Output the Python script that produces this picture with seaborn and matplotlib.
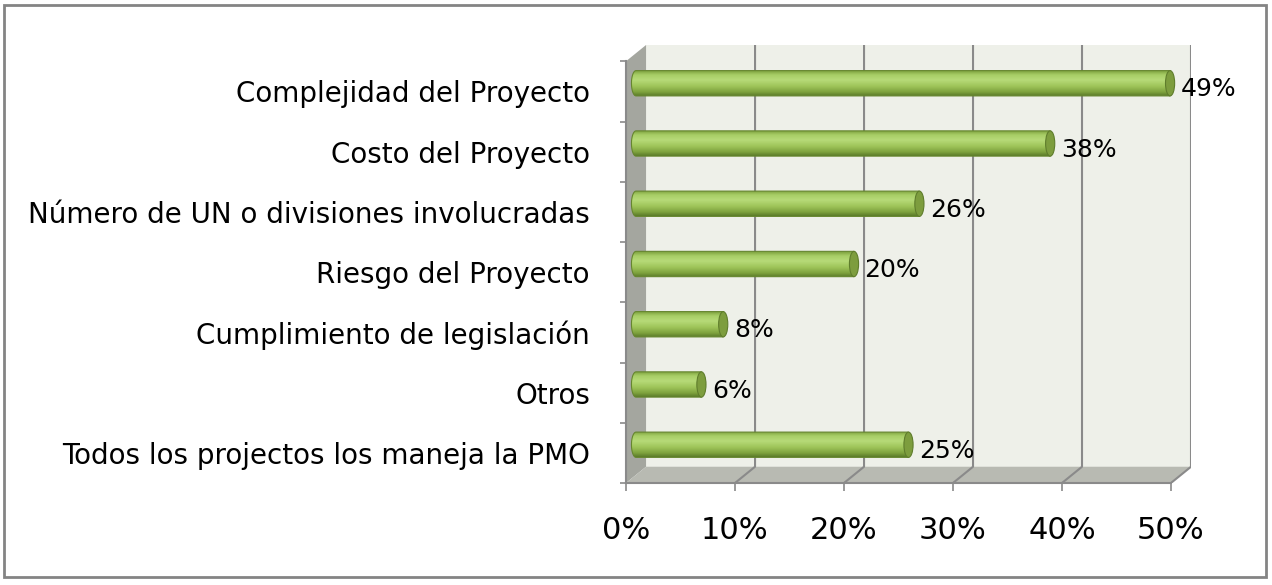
import numpy as np
import pandas as pd
import seaborn as sns
import matplotlib.pyplot as plt
import matplotlib.patches as mpatches
import matplotlib.path as mpath
from matplotlib.colors import LinearSegmentedColormap

# DATA
categories = ['Complejidad del Proyecto', 'Costo del Proyecto',
              'Número de UN o divisiones involucradas', 'Riesgo del Proyecto',
              'Cumplimiento de legislación', 'Otros',
              'Todos los projectos los maneja la PMO']
values = [49, 38, 26, 20, 8, 6, 25]
x_ticks = [0, 10, 20, 30, 40, 50]
x_tick_labels = ['0%', '10%', '20%', '30%', '40%', '50%']

df = pd.DataFrame({'criterio': categories, 'pct': values})

# half depth of the 3d box, in data units (x in %, y in category steps)
DX = 0.92
DY = 0.135
BAR_H = 0.42
CAP = 0.42
GRID = '#8a8a8a'

sns.set_style('white')
fig = plt.figure(figsize=(12.72, 5.85), dpi=100)
ax = fig.add_axes([626 / 1272, 102 / 585, 565 / 1272, 438 / 585])
ax.set_facecolor('white')

n = len(categories)
x_max = x_ticks[-1]
top_b, bot_b = -0.5 - DY, n - 0.5 - DY
top_f, bot_f = -0.5 + DY, n - 0.5 + DY

# walls and floor
ax.add_patch(mpatches.Rectangle((DX, top_b), x_max, bot_b - top_b,
                                fc='#eef0e9', ec='none', zorder=0))
ax.add_patch(mpatches.Polygon([(-DX, top_f), (DX, top_b), (DX, bot_b), (-DX, bot_f)],
                              fc='#a4a69f', ec='none', zorder=0))
ax.add_patch(mpatches.Polygon([(DX, bot_b), (x_max + DX, bot_b), (x_max - DX, bot_f), (-DX, bot_f)],
                              fc='#b8bab2', ec='none', zorder=0))
for t in x_ticks[1:]:
    ax.plot([t + DX, t + DX, t - DX], [top_b, bot_b, bot_f], color=GRID, lw=1.5, zorder=1)

# bars
sns.barplot(data=df, y='criterio', x='pct', orient='h', color='#a3c95e',
            width=BAR_H, ax=ax, zorder=3, edgecolor='none')

cyl = LinearSegmentedColormap.from_list('cyl', [
    (0.0, '#789c3a'), (0.18, '#a8ce66'), (0.38, '#b7da78'),
    (0.62, '#9fc55a'), (0.85, '#7ea23e'), (1.0, '#5b7b29')])
grad = np.linspace(0, 1, 64).reshape(-1, 1)
theta = np.radians(np.linspace(90, 270, 25))

for bar in ax.containers[0]:
    x0, y0 = bar.get_x(), bar.get_y()
    w, h = bar.get_width(), bar.get_height()
    yc = y0 + h / 2
    bar.set_visible(False)
    # cylinder body with rounded left end
    verts = [(x0, y0), (x0 + w, y0), (x0 + w, y0 + h)]
    verts += list(zip(x0 + CAP * np.cos(theta), yc + h / 2 * np.sin(theta)))
    verts.append(verts[0])
    codes = [mpath.Path.MOVETO] + [mpath.Path.LINETO] * (len(verts) - 2) + [mpath.Path.CLOSEPOLY]
    outline = mpatches.PathPatch(mpath.Path(verts, codes), fc='none', ec='#66862f',
                                 lw=0.8, zorder=4)
    ax.add_patch(outline)
    im = ax.imshow(grad, cmap=cyl, aspect='auto', origin='upper',
                   extent=(x0 - CAP, x0 + w, y0 + h, y0), zorder=3)
    im.set_clip_path(outline)
    ax.add_patch(mpatches.Ellipse((x0 + w, yc), 2 * CAP, h,
                                  fc='#7d9d3e', ec='#5f7d2c', lw=0.8, zorder=5))

for i, v in enumerate(values):
    ax.text(v + CAP + 0.55, i + 0.1, f'{v}%', va='center', ha='left',
            fontsize=18, color='black', zorder=6)

# axes, ticks
ax.set_xlim(-DX, x_max + DX)
ax.set_ylim(n - 0.5 + DY, -0.5 - DY)
ax.set_xticks([t - DX for t in x_ticks], x_tick_labels, fontsize=22)
ax.set_yticks([i + DY for i in range(n)], categories, fontsize=20)
ax.set_yticks([i - 0.5 + DY for i in range(n + 1)], minor=True)
ax.tick_params(axis='y', which='major', length=0, pad=26, labelcolor='black')
ax.tick_params(axis='y', which='minor', length=4.5, width=1.2, color=GRID, left=True)
ax.tick_params(axis='x', length=6, width=1.2, color=GRID, bottom=True, pad=18, labelcolor='black')
ax.set_xlabel('')
ax.set_ylabel('')
for s in ['top', 'right']:
    ax.spines[s].set_visible(False)
for s in ['left', 'bottom']:
    ax.spines[s].set_color(GRID)
    ax.spines[s].set_linewidth(1.5)
ax.spines['left'].set_bounds(top_f, bot_f)
ax.spines['bottom'].set_bounds(-DX, x_max - DX)

# outer frame
fig.add_artist(mpatches.Rectangle((4 / 1272, 8 / 585), 1262 / 1272, 572 / 585,
                                  transform=fig.transFigure, fill=False,
                                  ec='#848484', lw=2))

fig.savefig('out.png', dpi=100)
